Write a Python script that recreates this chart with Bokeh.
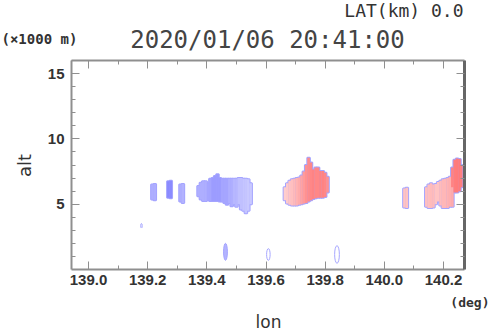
import math
from bokeh.plotting import figure
from bokeh.models import (Range1d, LinearAxis, FixedTicker, PrintfTickFormatter,
                          Label, LinearColorMapper, ColumnDataSource)
from bokeh.transform import transform
from bokeh.embed import file_html
from bokeh.resources import INLINE

# ---------------- data ----------------
x_ticks = [139.0, 139.2, 139.4, 139.6, 139.8, 140.0, 140.2]
x_minor = [139.1, 139.3, 139.5, 139.7, 139.9, 140.1]
y_ticks = [5, 10, 15]
y_minor = [1, 2, 3, 4, 6, 7, 8, 9, 11, 12, 13, 14, 16]

title_text = "2020/01/06 20:41:00"
lat_text = "LAT(km) 0.0"
unit_y_text = "(\u00d71000 m)"
unit_x_text = "(deg)"
x_label = "lon"
y_label = "alt"

# echo columns: lon centre, bottom alt, top alt, value (neg = blue, pos = red)
b1_lon = [139.216, 139.224]
b1_bot = [5.35, 5.3]
b1_top = [6.5, 6.55]
b1_val = [-0.45, -0.45]

b2_lon = [139.270, 139.278]
b2_bot = [5.5, 5.45]
b2_top = [6.75, 6.8]
b2_val = [-0.65, -0.65]

b3_lon = [139.311, 139.319]
b3_bot = [5.2, 5.1]
b3_top = [6.5, 6.55]
b3_val = [-0.45, -0.42]

b4_lon = [139.372, 139.380, 139.388, 139.396, 139.404, 139.412, 139.420, 139.428,
          139.436, 139.444, 139.452, 139.460, 139.468, 139.476, 139.484, 139.492,
          139.500, 139.508, 139.516, 139.524, 139.532, 139.540, 139.548]
b4_bot = [5.6, 5.35, 5.25, 5.25, 5.3, 5.25, 5.25, 5.25, 5.25, 5.2, 5.2, 5.1,
          4.95, 5.1, 4.85, 5.0, 4.8, 5.0, 4.6, 4.5, 4.3, 4.5, 5.0]
b4_top = [6.4, 6.65, 6.75, 6.75, 6.6, 6.95, 7.0, 7.15, 7.3, 7.0, 6.95, 6.95,
          6.95, 6.95, 6.95, 6.95, 6.95, 7.0, 7.0, 6.95, 6.95, 6.9, 6.6]
b4_val = [-0.45, -0.45, -0.45, -0.45, -0.5, -0.5, -0.55, -0.55, -0.55, -0.55,
          -0.5, -0.5, -0.5, -0.45, -0.45, -0.4, -0.4, -0.35, -0.35, -0.32,
          -0.32, -0.3, -0.3]

r1_lon = [139.664, 139.672, 139.680, 139.688, 139.696, 139.704, 139.712, 139.720,
          139.728, 139.736, 139.744, 139.752, 139.760, 139.768, 139.776, 139.784,
          139.792, 139.800, 139.808]
r1_bot = [5.3, 5.05, 4.95, 4.9, 4.9, 4.9, 4.95, 5.0, 5.05, 5.1, 5.2, 5.3, 5.4,
          5.45, 5.5, 5.5, 5.5, 5.55, 5.9]
r1_top = [6.3, 6.6, 6.8, 6.9, 6.95, 7.0, 7.05, 7.2, 7.5, 8.0, 8.55, 8.2, 7.65,
          7.8, 7.8, 7.55, 7.55, 7.4, 7.1]
r1_val = [0.25, 0.27, 0.3, 0.32, 0.35, 0.38, 0.42, 0.46, 0.5, 0.55, 0.58, 0.6,
          0.62, 0.6, 0.6, 0.62, 0.62, 0.6, 0.55]

r2_lon = [140.068, 140.076]
r2_bot = [4.75, 4.7]
r2_top = [6.2, 6.25]
r2_val = [0.3, 0.3]

r3_lon = [140.142, 140.150, 140.158, 140.166, 140.174, 140.182, 140.190, 140.198,
          140.206, 140.214, 140.222, 140.230]
r3_bot = [4.8, 4.7, 4.7, 4.75, 5.0, 5.2, 4.9, 4.7, 4.7, 4.7, 4.8, 4.8]
r3_top = [6.3, 6.5, 6.6, 6.5, 6.55, 6.7, 6.8, 6.9, 6.95, 7.0, 7.1, 6.9]
r3_val = [0.32, 0.32, 0.34, 0.34, 0.3, 0.3, 0.34, 0.36, 0.36, 0.38, 0.4, 0.42]

r4_lon = [140.230, 140.238, 140.246, 140.254, 140.260]
r4_bot = [6.3, 5.9, 5.9, 6.0, 6.3]
r4_top = [7.8, 8.4, 8.5, 8.45, 8.0]
r4_val = [0.62, 0.65, 0.66, 0.66, 0.64]

# small isolated echoes (ellipses)
fill_lon = [139.463]
fill_alt = [1.35]
fill_w = [0.013]
fill_h = [1.3]
ring_lon = [139.179, 139.608, 139.840]
ring_alt = [3.35, 1.15, 1.15]
ring_w = [0.005, 0.012, 0.016]
ring_h = [0.35, 0.9, 1.35]

# ---------------- geometry ----------------
W, H = 490, 331
X0, X1 = 138.9425, 140.271      # plotted lon range (chart box)
Y0, Y1 = 0.0, 16.0              # plotted alt range
BOX_L, BOX_R, BOX_T, BOX_B = 71.0, 464.0, 60.0, 269.0   # chart box in pixels

sx = (X1 - X0) / (BOX_R - BOX_L)
sy = (Y1 - Y0) / (BOX_B - BOX_T)
XS, XE = X0 - BOX_L * sx, X1 + (W - BOX_R) * sx
YS, YE = Y0 - (H - BOX_B) * sy, Y1 + BOX_T * sy


def lx(px):
    return XS + px * sx


def ly(py):
    return YE - py * sy


p = figure(width=W, height=H, x_range=Range1d(XS, XE), y_range=Range1d(YS, YE),
           output_backend="svg", toolbar_location=None,
           x_axis_location=None, y_axis_location=None, min_border=0)
p.outline_line_color = None
p.xgrid.visible = False
p.ygrid.visible = False
p.background_fill_color = "white"
p.border_fill_color = "white"

pal = []
for i in range(201):
    v = -1 + 2 * i / 200
    if v < 0:
        c = int(round(255 - 180 * (-v)))
        pal.append("#%02x%02xff" % (c, c))
    else:
        c = int(round(255 - 200 * v))
        pal.append("#ff%02x%02x" % (c, c))
mapper = LinearColorMapper(palette=pal, low=-1, high=1)

src = ColumnDataSource(dict(
    lon=b1_lon + b2_lon + b3_lon + b4_lon + r1_lon + r2_lon + r3_lon + r4_lon,
    bot=b1_bot + b2_bot + b3_bot + b4_bot + r1_bot + r2_bot + r3_bot + r4_bot,
    top=b1_top + b2_top + b3_top + b4_top + r1_top + r2_top + r3_top + r4_top,
    val=b1_val + b2_val + b3_val + b4_val + r1_val + r2_val + r3_val + r4_val,
))

COLW = 0.0088
p.vbar(x="lon", bottom="bot", top="top", width=COLW, source=src,
       fill_color="#a4a4ff", line_color="#a4a4ff", line_width=2)
p.vbar(x="lon", bottom="bot", top="top", width=COLW, source=src,
       fill_color=transform("val", mapper), line_color=None)

p.ellipse(x=fill_lon, y=fill_alt, width=fill_w, height=fill_h,
          fill_color="#b4b4ff", line_color="#a4a4ff", line_width=1)
p.ellipse(x=ring_lon, y=ring_alt, width=ring_w, height=ring_h,
          fill_color=None, line_color="#a8a8ff", line_width=1)

# ---------------- axes (box drawn by four axes) ----------------
AX = "#8f8f8f"


def style_axis(ax, show_labels):
    ax.axis_line_color = AX
    ax.axis_line_width = 2
    ax.major_tick_line_color = AX
    ax.minor_tick_line_color = AX
    ax.major_tick_line_width = 1
    ax.minor_tick_line_width = 1
    ax.major_tick_in = 8
    ax.major_tick_out = 0
    ax.minor_tick_in = 4
    ax.minor_tick_out = 0
    if show_labels:
        ax.major_label_text_font = "Liberation Sans"
        ax.major_label_text_font_style = "bold"
        ax.major_label_text_font_size = "15px"
        ax.major_label_text_color = "#333333"
    else:
        ax.major_label_text_font_size = "0px"
        ax.major_label_text_color = None


xb = LinearAxis(ticker=FixedTicker(ticks=x_ticks, minor_ticks=x_minor),
                formatter=PrintfTickFormatter(format="%.1f"),
                fixed_location=Y0, bounds=(X0, X1))
xb.major_label_standoff = 5
style_axis(xb, True)
p.add_layout(xb, "below")

yl = LinearAxis(ticker=FixedTicker(ticks=y_ticks, minor_ticks=y_minor),
                fixed_location=X0, bounds=(Y0, Y1))
yl.major_label_standoff = 7
style_axis(yl, True)
p.add_layout(yl, "left")

xt = LinearAxis(ticker=FixedTicker(ticks=x_ticks, minor_ticks=x_minor),
                fixed_location=Y1, bounds=(X0, X1))
style_axis(xt, False)
p.add_layout(xt, "above")

yr = LinearAxis(ticker=FixedTicker(ticks=y_ticks, minor_ticks=y_minor),
                fixed_location=X1, bounds=(Y0, Y1))
style_axis(yr, False)
yr.axis_line_color = "#666666"
yr.axis_line_width = 3
p.add_layout(yr, "right")

# ---------------- texts ----------------
MONO = "DejaVu Sans Mono"
SANS = "DejaVu Sans"


def add_text(px, py, text, align, size, bold=False, angle=0.0, baseline="alphabetic",
             color="#333333", font=MONO):
    p.add_layout(Label(x=lx(px), y=ly(py), text=text,
                       text_align=align, text_baseline=baseline, angle=angle,
                       text_font=font, text_font_style="bold" if bold else "normal",
                       text_font_size=size, text_color=color))


add_text(463, 10, lat_text, "right", "18px")
add_text(267, 39, title_text, "center", "24px", color="#444444")
add_text(1, 38, unit_y_text, "left", "14px", bold=True)
add_text(489, 302, unit_x_text, "right", "13px", bold=True)
add_text(24, 165, y_label, "center", "18px", angle=math.pi / 2, baseline="middle",
         font=SANS)
add_text(268, 321, x_label, "center", "17px", font=SANS)

open("out.html", "w").write(file_html(p, INLINE))
